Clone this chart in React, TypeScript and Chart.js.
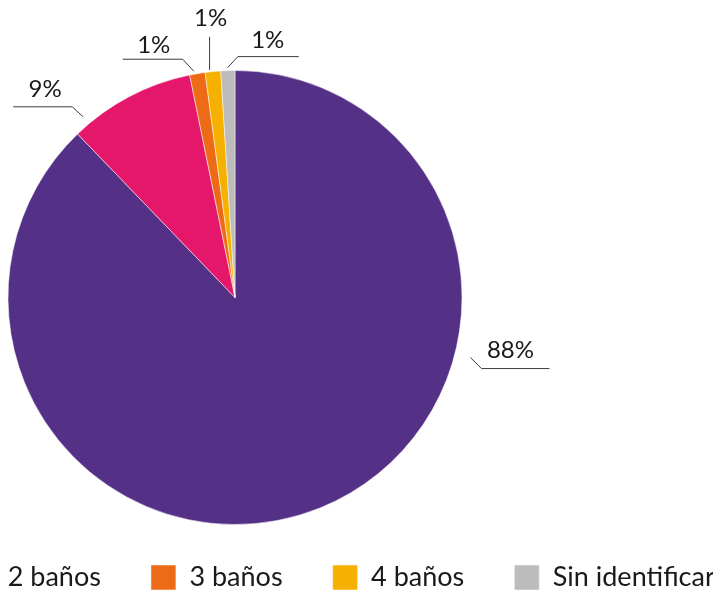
import React, { useEffect, useRef } from "react";
import { Chart, registerables } from "chart.js";

Chart.register(...registerables);

const categories = ["1 baño", "2 baños", "3 baños", "4 baños", "Sin identificar"];
const values = [87.8, 9.0, 1.1, 1.1, 1.0];
const valueLabels = ["88%", "9%", "1%", "1%", "1%"];
const colors = ["#553087", "#E4176B", "#ED6B17", "#F6B100", "#BDBCBB"];

// leader line layout per slice (styling only)
const leaderLayout = [
  { frac: 0.33, ext: 16, elbow: [11, 11], run: 68, text: [29, -18] },
  { frac: 0.12, ext: 9, elbow: [-11, -10], run: -59, text: [-27, -18] },
  { frac: 0.3, ext: 3, elbow: [-11, -12], run: -60, text: [-29, -14] },
  { frac: 0.3, ext: 2, elbow: [0, -33], run: 0, text: [1, -19] },
  { frac: 0.5, ext: 3, elbow: [10, -11], run: 61, text: [30, -16] },
];

const LEGEND_SHIFT = 22;

const legendShiftPlugin = {
  id: "legendShift",
  afterLayout(chart: any) {
    if (chart.legend) {
      chart.legend.left += LEGEND_SHIFT;
      chart.legend.right += LEGEND_SHIFT;
    }
  },
};

const leaderPlugin = {
  id: "leaders",
  afterDatasetsDraw(chart: any) {
    const meta = chart.getDatasetMeta(0);
    const ctx = chart.ctx;
    ctx.save();
    ctx.strokeStyle = "#3c3c3c";
    ctx.lineWidth = 1;
    ctx.fillStyle = "#1a1a1a";
    ctx.font = "24px Lato";
    ctx.textAlign = "center";
    ctx.textBaseline = "middle";
    meta.data.forEach((arc: any, i: number) => {
      const p = arc.getProps(["x", "y", "startAngle", "endAngle", "outerRadius"], true);
      const L = leaderLayout[i];
      const a = p.startAngle + (p.endAngle - p.startAngle) * L.frac;
      const ax = p.x + Math.cos(a) * (p.outerRadius + L.ext);
      const ay = p.y + Math.sin(a) * (p.outerRadius + L.ext);
      const ex = ax + L.elbow[0];
      const ey = ay + L.elbow[1];
      ctx.beginPath();
      ctx.moveTo(ax, ay);
      ctx.lineTo(ex, ey);
      if (L.run !== 0) ctx.lineTo(ex + L.run, ey);
      ctx.stroke();
      ctx.fillText(valueLabels[i], ex + L.text[0], ey + L.text[1]);
    });
    ctx.restore();
  },
};

export default function App() {
  const ref = useRef<HTMLCanvasElement>(null);
  useEffect(() => {
    if (!ref.current) return;
    const chart = new Chart(ref.current, {
      type: "pie",
      data: {
        labels: categories,
        datasets: [
          {
            data: values,
            backgroundColor: colors,
            borderColor: "#ffffff",
            borderWidth: 0.5,
            radius: 227,
            clip: false,
          } as any,
        ],
      },
      options: {
        animation: false,
        responsive: true,
        maintainAspectRatio: false,
        layout: { padding: { top: 81, bottom: 19, left: 0, right: 0 } },
        plugins: {
          tooltip: { enabled: false },
          legend: {
            position: "bottom",
            labels: {
              boxWidth: 25,
              boxHeight: 25,
              padding: 50,
              color: "#1a1a1a",
              font: { family: "Lato", size: 27 },
            },
          },
        },
      },
      plugins: [leaderPlugin, legendShiftPlugin],
    });
    return () => chart.destroy();
  }, []);
  return (
    <div style={{ position: "absolute", left: 0, top: 0, width: 713, height: 593, overflow: "hidden", background: "#fff" }}>
      <div style={{ position: "absolute", left: -315, top: 0, width: 1100, height: 620 }}>
        <canvas ref={ref} />
      </div>
    </div>
  );
}
